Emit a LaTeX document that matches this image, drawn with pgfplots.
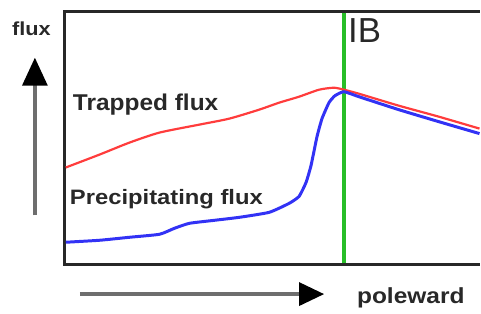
\documentclass[border=0pt]{standalone}
\usepackage{pgfplots}
\pgfplotsset{compat=1.18}
\usepackage{fontspec}
\setmainfont{Liberation Sans}
\usetikzlibrary{arrows.meta}
\definecolor{frame}{RGB}{40,40,40}
\definecolor{ibgreen}{RGB}{40,190,40}
\definecolor{trap}{RGB}{255,60,60}
\definecolor{prec}{RGB}{50,50,245}
\definecolor{shaft}{RGB}{110,110,110}
\begin{document}
\begin{tikzpicture}
\begin{axis}[
  width=481bp, height=314bp, scale only axis,
  xmin=0, xmax=481, ymin=0, ymax=314, y dir=reverse,
  hide axis, clip=false,
]
\path (axis cs:0,0) rectangle (axis cs:481,314);
% frame
\draw[frame, line width=3bp] (axis cs:481,11.5) -- (axis cs:65,11.5) -- (axis cs:65,265) -- (axis cs:481,265);
% IB line
\addplot[ibgreen, line width=3.5bp] coordinates {(345,13) (345,264)};
% trapped flux
\addplot[trap, line width=2.2bp, smooth, tension=0.4] coordinates {
(66,168) (100,155) (130,143) (160,133) (200,125) (230,119) (260,110) (280,103) (300,97) (320,90) (335,88) (345,90) (360,94) (400,106) (440,117) (481,129)
};
% precipitating flux
\addplot[prec, line width=3bp, smooth, tension=0.3] coordinates {
(66,243) (100,241) (130,238) (160,235) (175,229) (190,224) (215,221) (240,218) (270,213) (290,204) (300,197) (307,183) (312,166) (318,137) (323,119) (330,103) (336,96) (345,92) (360,97) (400,110) (440,122) (481,134)
};
% arrows
\draw[shaft, line width=4bp] (axis cs:35,216) -- (axis cs:35,84);
\fill[black] (axis cs:22,86) -- (axis cs:35,58) -- (axis cs:48,86) -- cycle;
\draw[shaft, line width=4bp] (axis cs:80,295) -- (axis cs:302,295);
\fill[black] (axis cs:300,283) -- (axis cs:325,295) -- (axis cs:300,307) -- cycle;
% labels
\node[anchor=base west, font=\bfseries\fontsize{19}{19}\selectfont, inner sep=0pt, text=frame] at (axis cs:12,36) {\scalebox{1.15}[1]{flux}};
\node[anchor=base west, font=\bfseries\fontsize{23}{23}\selectfont, inner sep=0pt, text=frame] at (axis cs:73,111) {\scalebox{1.07}[1]{Trapped flux}};
\node[anchor=base west, font=\bfseries\fontsize{21}{21}\selectfont, inner sep=0pt, text=frame] at (axis cs:70,205) {\scalebox{1.14}[1]{Precipitating flux}};
\node[anchor=base west, font=\fontsize{35}{35}\selectfont, inner sep=0pt, text=frame] at (axis cs:349,43) {IB};
\node[anchor=base west, font=\bfseries\fontsize{22}{22}\selectfont, inner sep=0pt, text=frame] at (axis cs:358,304) {\scalebox{1.12}[1]{poleward}};
\end{axis}
\end{tikzpicture}
\end{document}
